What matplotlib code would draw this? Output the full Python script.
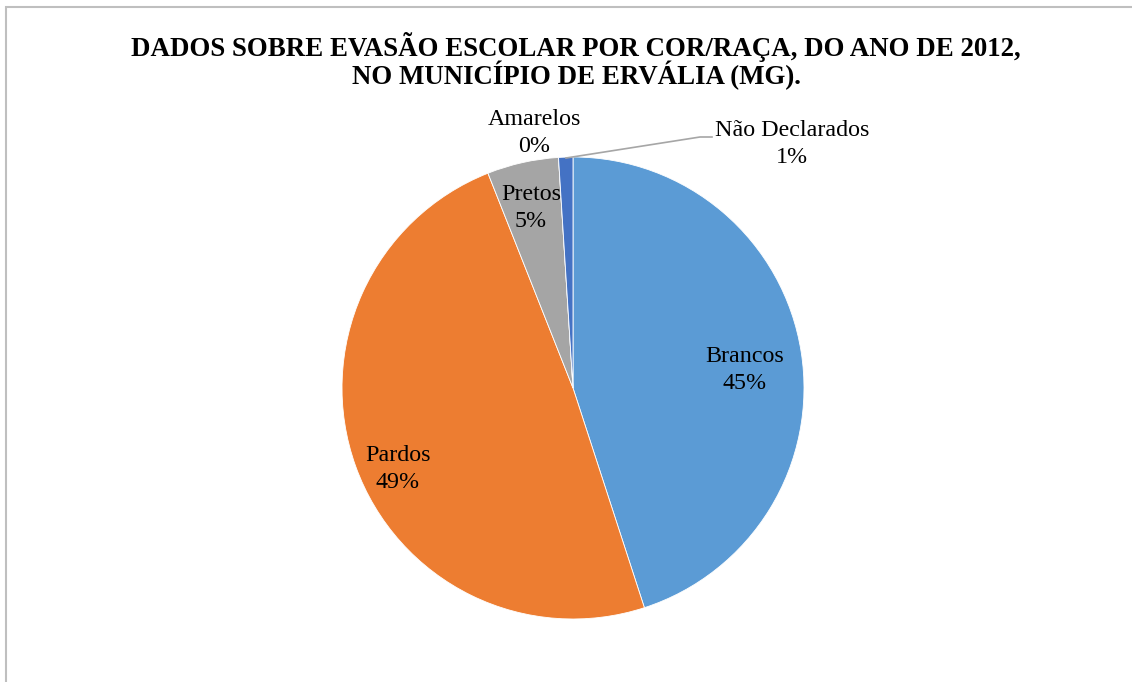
import matplotlib
matplotlib.use("Agg")
import matplotlib.pyplot as plt
from matplotlib.patches import Rectangle
from matplotlib.lines import Line2D

# Data
categories = ["Brancos", "Pardos", "Pretos", "Amarelos", "Não Declarados"]
percentages = [45, 49, 5, 0, 1]
colors = ["#5B9BD5", "#ED7D31", "#A5A5A5", "#FFC000", "#4472C4"]
title_lines = ["DADOS SOBRE EVASÃO ESCOLAR POR COR/RAÇA, DO ANO DE 2012,",
               "NO MUNICÍPIO DE ERVÁLIA (MG)."]

W, H, DPI = 1132, 682, 100
fig = plt.figure(figsize=(W / DPI, H / DPI), dpi=DPI)
fig.patch.set_facecolor("white")

serif = ["Liberation Serif", "DejaVu Serif"]

# Pie placement (pixels)
cx, cy, r = 573, 388, 231
ax = fig.add_axes([(cx - r) / W, (H - cy - r) / H, 2 * r / W, 2 * r / H])
ax.set_aspect("equal")
ax.axis("off")

ax.pie(percentages, colors=colors, startangle=90, counterclock=False,
       radius=1.0, center=(0, 0), frame=False,
       wedgeprops=dict(linewidth=0.6, edgecolor="white"))
ax.set_xlim(-1, 1)
ax.set_ylim(-1, 1)


def px(x, y):
    return ((x - cx) / r, (cy - y) / r)


label_pos = {
    "Brancos": (745, 370),
    "Pardos": (398, 469),
    "Pretos": (531, 208),
    "Amarelos": (534, 133),
    "Não Declarados": (792, 144),
}
for name, val in zip(categories, percentages):
    x, y = px(*label_pos[name])
    ax.text(x, y, f"{name}\n{val}%", ha="center", va="center",
            fontsize=17.3, family=serif, color="black", linespacing=1.42,
            clip_on=False)

# Leader line for the small slice
lx, ly = zip(px(566, 158), px(700, 137), px(712, 137))
ax.add_line(Line2D(lx, ly, color="#A6A6A6", linewidth=1.2, clip_on=False))

# Title
fig.text(576 / W, 1 - 47 / H, title_lines[0], ha="center", va="center",
         fontsize=19.4, fontweight="bold", family=serif)
fig.text(576 / W, 1 - 75 / H, title_lines[1], ha="center", va="center",
         fontsize=19.4, fontweight="bold", family=serif)

# Chart area border
fig.patches.append(Rectangle((5.5 / W, -0.1), 1.2, 1 - 6.5 / H + 0.1,
                             transform=fig.transFigure, fill=False,
                             edgecolor="#BFBFBF", linewidth=1.5))

fig.savefig("out.png", dpi=DPI, facecolor="white")
